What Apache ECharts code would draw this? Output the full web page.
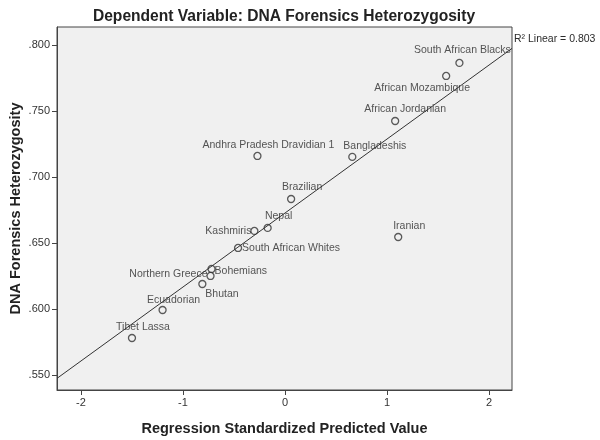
<!DOCTYPE html>
<html><head><meta charset="utf-8">
<script src="https://cdn.jsdelivr.net/npm/echarts@6/dist/echarts.min.js"></script>
<style>html,body{margin:0;padding:0;background:#fff}#c{width:600px;height:440px}</style>
</head><body><div id="c"></div>
<script>
const titleText = 'Dependent Variable: DNA Forensics Heterozygosity';
const xName = 'Regression Standardized Predicted Value';
const yName = 'DNA Forensics Heterozygosity';
const r2Text = 'R² Linear = 0.803';

const names = ['South African Blacks','African Mozambique','African Jordanian','Andhra Pradesh Dravidian 1','Bangladeshis','Brazilian','Nepal','Kashmiris','South African Whites','Iranian','Bohemians','Northern Greece','Bhutan','Ecuadorian','Tibet Lassa'];
const predicted = [1.71, 1.58, 1.08, -0.27, 0.66, 0.06, -0.17, -0.30, -0.46, 1.11, -0.72, -0.73, -0.81, -1.20, -1.50];
const heterozygosity = [0.7864, 0.7765, 0.7424, 0.7159, 0.7152, 0.6833, 0.6614, 0.6591, 0.6462, 0.6545, 0.6303, 0.6250, 0.6189, 0.5992, 0.5780];

const xTicks = [-2, -1, 0, 1, 2];
const yTicks = [0.55, 0.60, 0.65, 0.70, 0.75, 0.80];
const xRange = [-2.235, 2.2255];
const yRange = [0.5386, 0.8136];

// label placement style: [align, dx, dy] relative to marker centre
const labelPlacement = [
  ['center', 3, -13], ['center', -24, 12], ['center', 10, -12], ['center', 11, -11],
  ['left', -9, -11], ['center', 11, -12], ['center', 11, -12], ['right', -3, 0],
  ['left', 4, 0], ['center', 11, -11], ['left', 3, 2], ['right', -3, -2],
  ['left', 3, 10], ['center', 11, -10], ['center', 11, -11]
];

// least-squares fit line from the data
const n = predicted.length;
const mx = predicted.reduce((a, b) => a + b, 0) / n;
const my = heterozygosity.reduce((a, b) => a + b, 0) / n;
let sxy = 0, sxx = 0;
for (let i = 0; i < n; i++) { sxy += (predicted[i] - mx) * (heterozygosity[i] - my); sxx += (predicted[i] - mx) ** 2; }
const slope = sxy / sxx, intercept = my - slope * mx;
const fitLine = xRange.map(x => [x, intercept + slope * x]);

const FONT = 'Liberation Sans, Arial, sans-serif';
const chart = echarts.init(document.getElementById('c'), null, { renderer: 'canvas' });
chart.setOption({
  animation: false,
  backgroundColor: '#ffffff',
  title: {
    text: titleText, left: 279, top: 4, textAlign: 'center',
    textStyle: { fontSize: 15.6, fontWeight: 'bold', color: '#222', fontFamily: FONT }
  },
  grid: { left: 57, right: 88, top: 27, bottom: 50, show: true, backgroundColor: '#f0f0f0', borderColor: '#444', borderWidth: 1, containLabel: false, outerBoundsMode: 'none' },
  xAxis: {
    type: 'value', min: xRange[0], max: xRange[1],
    name: xName, nameLocation: 'middle', nameGap: 31, nameMoveOverlap: false,
    nameTextStyle: { fontSize: 14.5, fontWeight: 'bold', color: '#222', fontFamily: FONT },
    axisLine: { show: true, onZero: false, lineStyle: { color: '#444' } },
    axisTick: { show: true, length: 5, customValues: xTicks, lineStyle: { color: '#444' } },
    axisLabel: { customValues: xTicks, fontSize: 11, color: '#333', margin: 7, fontFamily: FONT },
    splitLine: { show: false }
  },
  yAxis: {
    type: 'value', min: yRange[0], max: yRange[1],
    name: yName, nameLocation: 'middle', nameGap: 34, nameMoveOverlap: false,
    nameTextStyle: { fontSize: 14.5, fontWeight: 'bold', color: '#222', fontFamily: FONT },
    axisLine: { show: true, onZero: false, lineStyle: { color: '#444' } },
    axisTick: { show: true, length: 5, customValues: yTicks, lineStyle: { color: '#444' } },
    axisLabel: { customValues: yTicks, fontSize: 11, color: '#333', margin: 7, fontFamily: FONT,
      formatter: v => v.toFixed(3).replace(/^0/, '') },
    splitLine: { show: false }
  },
  series: [
    {
      type: 'line', data: fitLine, symbol: 'none', silent: true, z: 2,
      lineStyle: { color: '#333', width: 1 },
      endLabel: { show: true, formatter: r2Text, fontSize: 10.5, color: '#2b2b2b', fontFamily: FONT, distance: 2, offset: [0, -9] }
    },
    {
      type: 'scatter', symbol: 'circle', symbolSize: 7, z: 3,
      itemStyle: { color: 'rgba(0,0,0,0)', borderColor: '#333', borderWidth: 1.3 },
      data: names.map((nm, i) => ({
        name: nm, value: [predicted[i], heterozygosity[i]],
        label: {
          show: true, position: 'inside', formatter: '{b}',
          align: labelPlacement[i][0], verticalAlign: 'middle',
          offset: [labelPlacement[i][1], labelPlacement[i][2]],
          fontSize: 10.5, color: '#2b2b2b', fontFamily: FONT
        }
      }))
    }
  ]
});
</script></body></html>
